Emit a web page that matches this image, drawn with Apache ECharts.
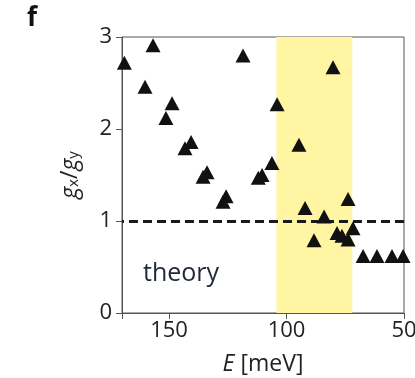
<!DOCTYPE html>
<html>
<head>
<meta charset="utf-8">
<script src="https://cdn.jsdelivr.net/npm/echarts@6/dist/echarts.min.js"></script>
<style>
  html, body { margin: 0; padding: 0; background: #fff; }
  #chart { width: 415px; height: 378px; }
</style>
</head>
<body>
<div id="chart"></div>
<script>
// energy (meV) and g_x/g_y ratio
const energy = [169, 156.8, 160.2, 148.7, 151.3, 140.6, 143.2, 133.8, 135.5, 125.7, 127,
  118.5, 110.4, 112, 106.2, 104, 94.7, 80.2, 92.1, 84, 88.3, 73.8, 78.5, 76.4, 73.8, 71.7,
  67.4, 61.5, 55.1, 50.4];
const ratio = [2.72, 2.91, 2.46, 2.28, 2.12, 1.86, 1.79, 1.53, 1.48, 1.27, 1.21,
  2.80, 1.50, 1.47, 1.63, 2.27, 1.83, 2.67, 1.14, 1.05, 0.79, 1.24, 0.87, 0.84, 0.80, 0.92,
  0.62, 0.62, 0.62, 0.62];
const xTicks = [150, 100, 50];
const yTicks = [0, 1, 2, 3];
const theoryValue = 1;
const band = [104.3, 72];

const chart = echarts.init(document.getElementById("chart"));
const font = "'Open Sans', 'DejaVu Sans', sans-serif";

chart.setOption({
  animation: false,
  grid: {
    left: 122, top: 37, width: 282, height: 276,
    outerBoundsMode: "none", containLabel: false,
    show: true, borderColor: "#555", borderWidth: 1, backgroundColor: "transparent"
  },
  xAxis: {
    type: "value", min: 50, max: 170, inverse: true, interval: 50,
    name: "{i|E} [meV]", nameLocation: "middle", nameGap: 40,
    nameTextStyle: {
      fontFamily: font, fontSize: 23, color: "#222",
      rich: { i: { fontFamily: font, fontSize: 23, fontStyle: "italic", color: "#222" } }
    },
    axisLine: { lineStyle: { color: "#555", width: 1 } },
    axisTick: { length: 6, lineStyle: { color: "#555" } },
    splitLine: { show: false },
    axisLabel: {
      fontFamily: font, fontSize: 22, color: "#222", margin: 7,
      formatter: v => xTicks.includes(v) ? String(v) : ""
    }
  },
  yAxis: {
    type: "value", min: 0, max: 3, interval: 1,
    name: "{i|g}{s|x}{n|/}{i|g}{s|y}", nameLocation: "middle", nameGap: 40,
    nameTextStyle: {
      fontFamily: font, fontSize: 21, color: "#222",
      rich: {
        i: { fontFamily: font, fontSize: 23, fontStyle: "italic", color: "#222" },
        n: { fontFamily: font, fontSize: 23, color: "#222" },
        s: { fontFamily: font, fontSize: 15, color: "#222", padding: [6, 0, 0, 0] }
      }
    },
    axisLine: { lineStyle: { color: "#555", width: 1 } },
    axisTick: { length: 6, lineStyle: { color: "#555" } },
    splitLine: { show: false },
    axisLabel: {
      fontFamily: font, fontSize: 22, color: "#222", margin: 10,
      formatter: v => yTicks.includes(v) ? String(v) : ""
    }
  },
  graphic: [
    { type: "text", left: 27, top: 6, style: { text: "f", font: "bold 26px " + font, fill: "#111" } },
    { type: "text", left: 143, top: 261, style: { text: "theory", font: "25px " + font, fill: "#222a3a" } }
  ],
  series: [
    {
      type: "scatter",
      symbol: "triangle",
      symbolSize: [15, 14],
      itemStyle: { color: "#111", opacity: 1 },
      data: energy.map((e, i) => [e, ratio[i]]),
      z: 5,
      markArea: {
        silent: true,
        itemStyle: { color: "#fff5a3" },
        data: [[{ xAxis: band[0] }, { xAxis: band[1] }]]
      },
      markLine: {
        silent: true, symbol: "none",
        label: { show: false },
        lineStyle: { color: "#1a1a1a", width: 3, type: [9, 5] },
        data: [{ yAxis: theoryValue }]
      }
    }
  ]
});
</script>
</body>
</html>
